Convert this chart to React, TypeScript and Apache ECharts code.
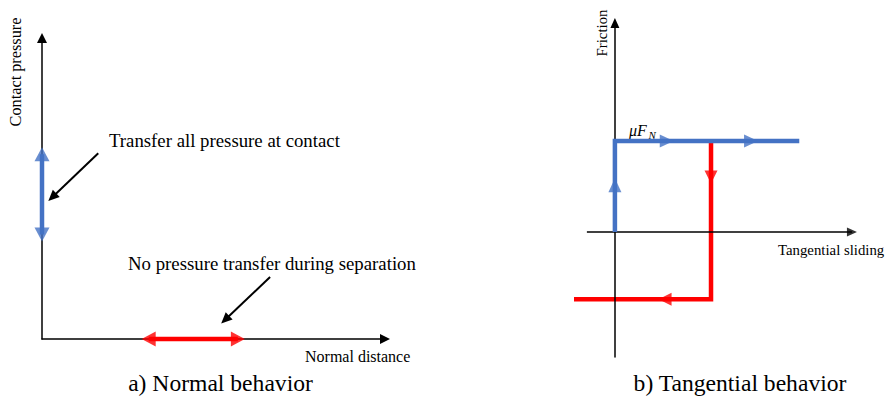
import React, { useEffect, useRef } from "react";
import * as echarts from "echarts";

const FONT = '"Liberation Serif", "Times New Roman", "DejaVu Serif", serif';
const BLUE = "#4472C4";
const RED = "#FF0000";

// ---- Panel a) Normal behavior (left axes units) ----
const normalBlueSegment: number[][] = [[0, 3.47], [0, 6.14]];
const normalBlueHeads: number[][] = [[0, 6.14, 0], [0, 3.47, 180]];
const normalRedSegment: number[][] = [[3.11, 0], [5.71, 0]];
const normalRedHeads: number[][] = [[3.11, 0, 90], [5.71, 0, -90]];
const normalNoteArrows: number[][][] = [
  [[1.64, 6.17], [0.3, 4.71]],
  [[6.65, 2.06], [5.34, 0.64]],
];

// ---- Panel b) Tangential behavior (right axes units) ----
const stickBlue: number[][] = [[0, 0], [0, 3], [6.58, 3]];
const slipRed: number[][] = [[3.43, 3], [3.43, -2.22], [-1.46, -2.22]];
const blueHeads: number[][] = [[0, 1.54, 0], [1.85, 3, -90], [4.86, 3, -90]];
const redHeads: number[][] = [[3.43, 1.81, 180], [1.79, -2.22, 90]];
const slidingAxis: number[][] = [[-1, 0], [8.46, 0]];
const slidingAxisHead: number[][] = [[8.46, 0, -90]];

// texts
const leftYTitle = "Contact pressure";
const leftXTitle = "Normal distance";
const leftNoteTop = "Transfer all pressure at contact";
const leftNoteBottom = "No pressure transfer during separation";
const leftCaption = "a) Normal behavior";
const rightYTitle = "Friction";
const rightXTitle = "Tangential sliding";
const rightCaption = "b) Tangential behavior";

function axis(gridIndex: number, min: number, max: number, size: number[], showLine: boolean, z: number) {
  return {
    type: "value",
    gridIndex,
    min,
    max,
    z,
    axisLine: {
      show: showLine,
      onZero: true,
      symbol: ["none", "triangle"],
      symbolSize: size,
      lineStyle: { color: "#000", width: 1.5 },
    },
    axisTick: { show: false },
    axisLabel: { show: false },
    splitLine: { show: false },
  };
}

function heads(data: number[][], color: string, size: number[], xi: number, z = 6) {
  return {
    type: "scatter",
    xAxisIndex: xi,
    yAxisIndex: xi,
    symbol: "triangle",
    symbolSize: size,
    itemStyle: { color },
    z,
    clip: false,
    silent: true,
    data: data.map((d) => ({ value: [d[0], d[1]], symbolRotate: d[2] })),
  };
}

function path(data: number[][], color: string, xi: number, z: number, width = 4.5) {
  return {
    type: "line",
    xAxisIndex: xi,
    yAxisIndex: xi,
    data,
    showSymbol: false,
    symbol: "none",
    clip: false,
    silent: true,
    lineStyle: { color, width, cap: "butt", join: "miter" },
    z,
  };
}

function txt(text: string, x: number, y: number, fontSize: number, extra: any = {}) {
  return {
    type: "text",
    x,
    y,
    silent: true,
    style: {
      text,
      fontFamily: FONT,
      fontSize,
      fill: "#000",
      align: extra.align || "left",
      verticalAlign: "middle",
      fontStyle: extra.fontStyle || "normal",
    },
    rotation: extra.rotation || 0,
  };
}

export default function App() {
  const ref = useRef<HTMLDivElement>(null);
  useEffect(() => {
    if (!ref.current) return;
    const chart = echarts.init(ref.current, undefined, { renderer: "svg" });
    chart.setOption({
      animation: false,
      backgroundColor: "#fff",
      grid: [
        { left: 42, top: 38, width: 343, height: 301 },
        { left: 574, top: 23, width: 283, height: 334 },
      ],
      xAxis: [axis(0, 0, 10, [10, 10], true, 0), axis(1, -1.46, 8.64, [9, 10], false, 0)],
      yAxis: [axis(0, 0, 10, [10, 10], true, 0), axis(1, -4.12, 6.89, [9, 10], true, 4)],
      series: [
        {
          ...path(normalBlueSegment, BLUE, 0, 3),
          markLine: {
            silent: true,
            animation: false,
            symbol: ["none", "triangle"],
            symbolSize: [10, 11],
            label: { show: false },
            lineStyle: { color: "#000", width: 2, type: "solid" },
            data: normalNoteArrows.map((a) => [{ coord: a[0] }, { coord: a[1] }]),
          },
        },
        heads(normalBlueHeads, BLUE, [15, 14], 0),
        path(normalRedSegment, RED, 0, 3),
        heads(normalRedHeads, RED, [15, 14], 0),
        path(slipRed, RED, 1, 3),
        path(slidingAxis, "#000", 1, 4, 1.5),
        heads(slidingAxisHead, "#000", [9, 10], 1, 4),
        path(stickBlue, BLUE, 1, 5),
        heads(blueHeads, BLUE, [13, 14], 1),
        heads(redHeads, RED, [13, 13], 1),
      ],
      graphic: [
        txt(leftYTitle, 15, 72, 16.3, { align: "center", rotation: Math.PI / 2 }),
        txt(leftNoteTop, 109, 140.5, 18.8),
        txt(leftNoteBottom, 128, 263.3, 18.8),
        txt(leftXTitle, 305, 356.7, 16),
        txt(leftCaption, 220.5, 382.5, 23.6, { align: "center" }),
        txt(rightYTitle, 602, 33, 14.8, { align: "center", rotation: Math.PI / 2 }),
        txt(rightXTitle, 778, 250, 14.8),
        txt(rightCaption, 740, 382.5, 23.6, { align: "center" }),
        txt("μF", 629, 130.5, 16, { fontStyle: "italic" }),
        txt("N", 648.5, 135, 11, { fontStyle: "italic" }),
      ],
    });
    return () => chart.dispose();
  }, []);
  return (
    <div
      ref={ref}
      style={{ position: "fixed", left: 0, top: 0, width: 888, height: 396 }}
    />
  );
}
